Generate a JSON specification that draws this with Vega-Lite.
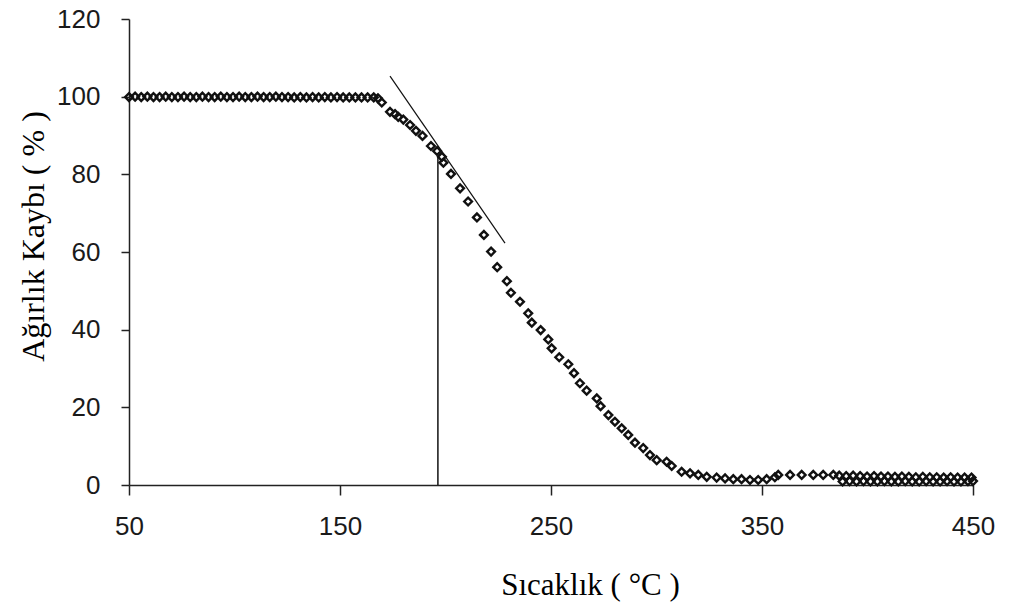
{
  "$schema": "https://vega.github.io/schema/vega-lite/v6.json",
  "width": 844,
  "height": 466,
  "autosize": {"type": "none"},
  "padding": {"left": 129, "top": 19, "right": 37, "bottom": 122},
  "background": "white",
  "config": {
    "view": {"stroke": null},
    "axis": {
      "grid": false,
      "domainColor": "#222",
      "domainWidth": 1.5,
      "tickColor": "#222",
      "tickWidth": 1.5,
      "labelFlush": false,
      "labelOverlap": false,
      "labelFont": "Liberation Sans",
      "labelFontSize": 26,
      "labelColor": "#1a1a1a",
      "titleFont": "Liberation Serif",
      "titleFontWeight": "normal",
      "titleColor": "#000"
    }
  },
  "datasets": {
    "tga": [
      {"T": 50, "w": 99.9}, {"T": 52.9, "w": 100.0}, {"T": 55.8, "w": 99.9}, {"T": 58.7, "w": 100.0},
      {"T": 61.6, "w": 99.9}, {"T": 64.5, "w": 99.9}, {"T": 67.4, "w": 100.0}, {"T": 70.3, "w": 99.9},
      {"T": 73.2, "w": 99.9}, {"T": 76.1, "w": 100.0}, {"T": 79.0, "w": 99.9}, {"T": 81.9, "w": 99.9},
      {"T": 84.8, "w": 100.0}, {"T": 87.7, "w": 99.9}, {"T": 90.6, "w": 99.9}, {"T": 93.5, "w": 100.0},
      {"T": 96.4, "w": 99.9}, {"T": 99.3, "w": 99.9}, {"T": 102.2, "w": 100.0}, {"T": 105.1, "w": 99.9},
      {"T": 108.0, "w": 99.9}, {"T": 110.9, "w": 100.0}, {"T": 113.8, "w": 99.9}, {"T": 116.7, "w": 99.9},
      {"T": 119.6, "w": 100.0}, {"T": 122.5, "w": 99.9}, {"T": 125.4, "w": 99.9}, {"T": 128.3, "w": 99.8},
      {"T": 131.2, "w": 99.9}, {"T": 134.1, "w": 99.8}, {"T": 137.0, "w": 99.9}, {"T": 139.9, "w": 99.8},
      {"T": 142.8, "w": 99.9}, {"T": 145.7, "w": 99.8}, {"T": 148.6, "w": 99.9}, {"T": 151.5, "w": 99.8},
      {"T": 154.4, "w": 99.8}, {"T": 157.3, "w": 99.8}, {"T": 160.2, "w": 99.8}, {"T": 163.1, "w": 99.8},
      {"T": 166.0, "w": 99.8}, {"T": 168.0, "w": 99.6},
      {"T": 169.8, "w": 98.5}, {"T": 173.7, "w": 96.1}, {"T": 176.1, "w": 95.5}, {"T": 177.6, "w": 94.8},
      {"T": 180.0, "w": 94.1}, {"T": 183.2, "w": 92.7}, {"T": 186.0, "w": 91.2}, {"T": 189.1, "w": 89.9},
      {"T": 193.1, "w": 87.3}, {"T": 196.0, "w": 86.0}, {"T": 198.3, "w": 84.5}, {"T": 199.0, "w": 83.0},
      {"T": 202.6, "w": 80.1}, {"T": 206.9, "w": 76.4}, {"T": 210.7, "w": 73.0}, {"T": 214.9, "w": 68.9},
      {"T": 218.2, "w": 64.4}, {"T": 221.6, "w": 60.1}, {"T": 224.5, "w": 56.1}, {"T": 229.1, "w": 52.5},
      {"T": 231.0, "w": 49.5}, {"T": 235.3, "w": 47.2}, {"T": 239.2, "w": 44.2}, {"T": 240.9, "w": 41.8},
      {"T": 245.1, "w": 39.9}, {"T": 248.7, "w": 37.5}, {"T": 250.3, "w": 35.2}, {"T": 253.9, "w": 32.9},
      {"T": 258.2, "w": 31.1}, {"T": 260.9, "w": 28.8}, {"T": 263.7, "w": 26.2}, {"T": 266.9, "w": 24.3},
      {"T": 271.7, "w": 22.3}, {"T": 273.5, "w": 20.3}, {"T": 277.2, "w": 18.0}, {"T": 280.3, "w": 16.3},
      {"T": 283.5, "w": 14.6}, {"T": 286.6, "w": 12.9}, {"T": 289.8, "w": 10.9}, {"T": 293.7, "w": 9.5},
      {"T": 296.9, "w": 7.7}, {"T": 300.1, "w": 6.4}, {"T": 304.8, "w": 6.0}, {"T": 307.2, "w": 4.9},
      {"T": 311.9, "w": 3.4}, {"T": 315.9, "w": 3.0}, {"T": 319.8, "w": 2.6}, {"T": 323.8, "w": 2.1},
      {"T": 328.5, "w": 1.9}, {"T": 332.5, "w": 1.7}, {"T": 336.4, "w": 1.5}, {"T": 340.3, "w": 1.5},
      {"T": 344.3, "w": 1.3}, {"T": 348.2, "w": 1.3}, {"T": 352.2, "w": 1.5}, {"T": 356.1, "w": 2.0},
      {"T": 357.7, "w": 2.6}, {"T": 363.3, "w": 2.6}, {"T": 368.8, "w": 2.6}, {"T": 374.3, "w": 2.6},
      {"T": 379.0, "w": 2.6}, {"T": 383.8, "w": 2.6},
      {"T": 386.6, "w": 2.4}, {"T": 389.9, "w": 2.3}, {"T": 393.2, "w": 2.4}, {"T": 396.5, "w": 2.3},
      {"T": 399.8, "w": 2.2}, {"T": 403.1, "w": 2.3}, {"T": 406.4, "w": 2.2}, {"T": 409.7, "w": 2.2},
      {"T": 413.0, "w": 2.1}, {"T": 416.3, "w": 2.2}, {"T": 419.6, "w": 2.1}, {"T": 422.9, "w": 2.0},
      {"T": 426.2, "w": 2.1}, {"T": 429.5, "w": 2.0}, {"T": 432.8, "w": 2.0}, {"T": 436.1, "w": 1.9},
      {"T": 439.4, "w": 2.0}, {"T": 442.7, "w": 1.9}, {"T": 446.0, "w": 1.9}, {"T": 449.3, "w": 1.9},
      {"T": 388.2, "w": 0.9}, {"T": 391.5, "w": 1.0}, {"T": 394.8, "w": 0.9}, {"T": 398.1, "w": 1.0},
      {"T": 401.4, "w": 0.9}, {"T": 404.7, "w": 0.9}, {"T": 408.0, "w": 1.0}, {"T": 411.3, "w": 0.9},
      {"T": 414.6, "w": 0.9}, {"T": 417.9, "w": 1.0}, {"T": 421.2, "w": 0.9}, {"T": 424.5, "w": 0.9},
      {"T": 427.8, "w": 1.0}, {"T": 431.1, "w": 0.9}, {"T": 434.4, "w": 0.9}, {"T": 437.7, "w": 1.0},
      {"T": 441.0, "w": 0.9}, {"T": 444.3, "w": 0.9}, {"T": 447.6, "w": 1.0}, {"T": 450.0, "w": 1.0}
    ],
    "onset": [{"T": 196.4, "w0": 0, "w1": 84.5}],
    "tangent": [{"T0": 173.7, "w0": 105.3, "T1": 228.2, "w1": 62.3}]
  },
  "layer": [
    {
      "data": {"name": "tga"},
      "mark": {"type": "point", "shape": "diamond", "filled": false, "size": 60, "stroke": "#111", "strokeWidth": 2.4, "opacity": 1},
      "encoding": {
        "x": {
          "field": "T", "type": "quantitative",
          "scale": {"domain": [50, 450], "nice": false, "zero": false},
          "axis": {
            "values": [50, 150, 250, 350, 450],
            "tickSize": 10,
            "labelPadding": 18,
            "title": "Sıcaklık  ( °C )",
            "titleFontSize": 31,
            "titleX": 461,
            "titleY": 100,
            "titleBaseline": "middle",
            "titleAlign": "center"
          }
        },
        "y": {
          "field": "w", "type": "quantitative",
          "scale": {"domain": [0, 120], "nice": false},
          "axis": {
            "values": [0, 20, 40, 60, 80, 100, 120],
            "tickSize": 8,
            "labelPadding": 21,
            "title": "Ağırlık Kaybı  ( % )",
            "titleFontSize": 32,
            "titleX": -96,
            "titleY": 217,
            "titleAngle": -90,
            "titleBaseline": "middle",
            "titleAlign": "center"
          }
        }
      }
    },
    {
      "data": {"name": "onset"},
      "mark": {"type": "rule", "stroke": "#111", "strokeWidth": 1.5},
      "encoding": {
        "x": {"field": "T", "type": "quantitative"},
        "y": {"field": "w0", "type": "quantitative"},
        "y2": {"field": "w1"}
      }
    },
    {
      "data": {"name": "tangent"},
      "mark": {"type": "rule", "stroke": "#111", "strokeWidth": 1.2},
      "encoding": {
        "x": {"field": "T0", "type": "quantitative"},
        "y": {"field": "w0", "type": "quantitative"},
        "x2": {"field": "T1"},
        "y2": {"field": "w1"}
      }
    }
  ]
}
